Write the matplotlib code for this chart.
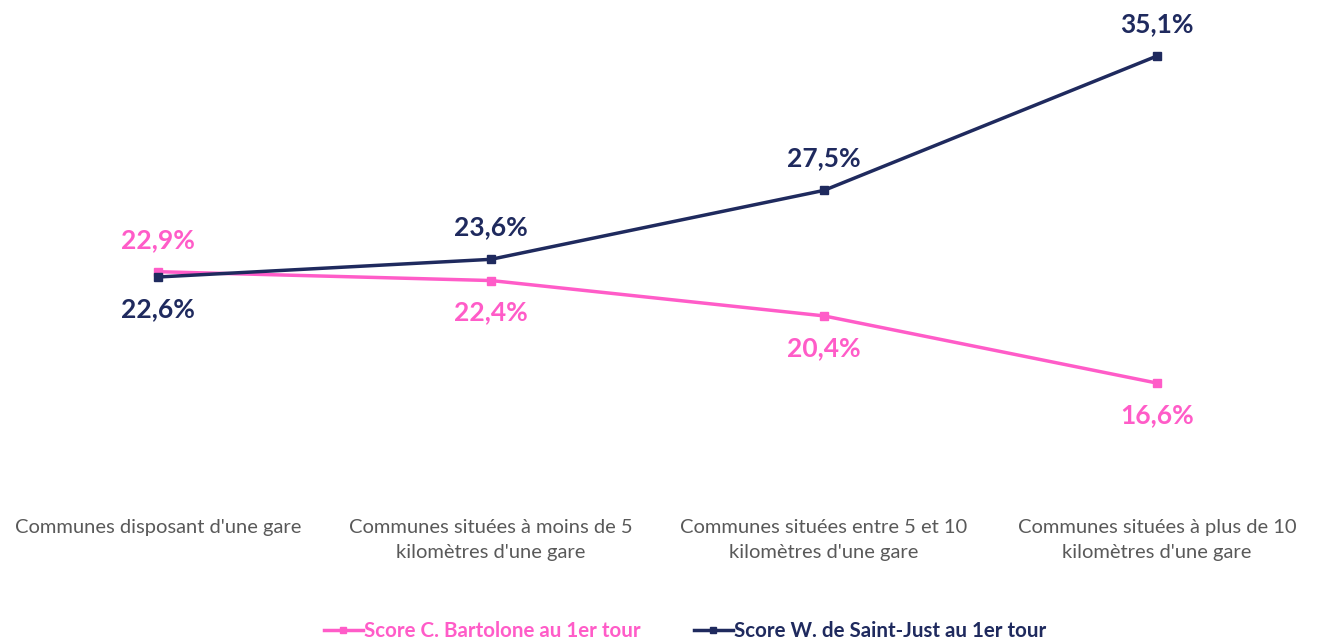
import matplotlib
matplotlib.use("Agg")
from matplotlib import pyplot as plt

# donnees
categories = [
    "Communes disposant d'une gare",
    "Communes situées à moins de 5\nkilomètres d'une gare",
    "Communes situées entre 5 et 10\nkilomètres d'une gare",
    "Communes situées à plus de 10\nkilomètres d'une gare",
]
bartolone = [22.9, 22.4, 20.4, 16.6]
saint_just = [22.6, 23.6, 27.5, 35.1]
bartolone_labels = ["22,9%", "22,4%", "20,4%", "16,6%"]
saint_just_labels = ["22,6%", "23,6%", "27,5%", "35,1%"]
# position des etiquettes : 1 = dessus, -1 = dessous
bartolone_side = [1, -1, -1, -1]
saint_just_side = [-1, 1, 1, 1]

PINK = "#FF5CC8"
NAVY = "#1F2A5E"
GREY = "#595959"

plt.rcParams['font.family'] = ['Lato', 'DejaVu Sans']

fig = plt.figure(figsize=(13.17, 6.39), dpi=100)
ax = fig.add_axes([0, 1 - 460 / 639, 1, 460 / 639])
ax.set_xlim(-158 / 333, (1317 - 158) / 333)
ax.set_ylim(22.6 - (460 - 277) / 17.68, 22.6 + 277 / 17.68)
ax.axis("off")

x = list(range(len(categories)))
ax.plot(x, bartolone, color=PINK, lw=2.5, marker="s", ms=6,
        label="Score C. Bartolone au 1er tour")
ax.plot(x, saint_just, color=NAVY, lw=2.5, marker="s", ms=6,
        label="Score W. de Saint-Just au 1er tour")

for xi, v, lab, s in zip(x, bartolone, bartolone_labels, bartolone_side):
    ax.annotate(lab, (xi, v), xytext=(0, 23 * s), textcoords="offset points",
                ha="center", va="center", fontsize=19, fontweight="bold", color=PINK)
for xi, v, lab, s in zip(x, saint_just, saint_just_labels, saint_just_side):
    ax.annotate(lab, (xi, v), xytext=(0, 23 * s), textcoords="offset points",
                ha="center", va="center", fontsize=19, fontweight="bold", color=NAVY)

# libelles des categories
for xi, cat in zip(x, categories):
    ax.text(xi, 1 - 519 / 460, cat, transform=ax.get_xaxis_transform(),
            ha="center", va="top", fontsize=14.5, color=GREY, linespacing=1.55)

leg = fig.legend(loc="lower center", bbox_to_anchor=(0.52, -0.032), ncol=2,
                 frameon=False, fontsize=14.8, handlelength=1.9, handletextpad=0.05,
                 columnspacing=2.6, markerscale=0.8)
for t, c in zip(leg.get_texts(), [PINK, NAVY]):
    t.set_color(c)
    t.set_fontweight("bold")

fig.savefig("out.png", dpi=100)
